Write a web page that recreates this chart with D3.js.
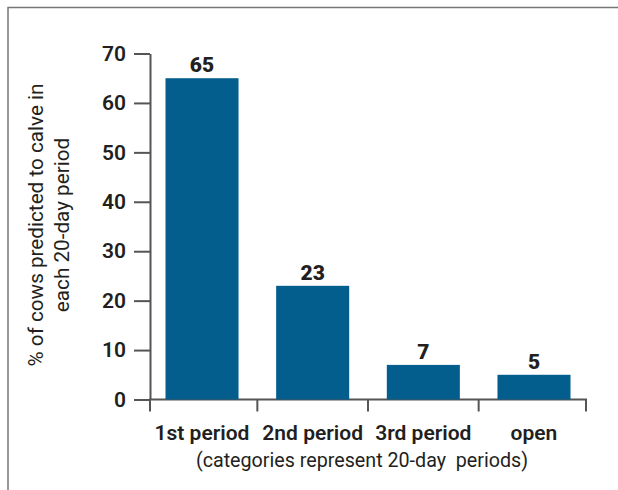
<!DOCTYPE html>
<html>
<head>
    <meta charset="utf-8">
    <style>
        body {
            margin: 0;
            background: #fff;
        }

        svg {
            display: block;
            font-family: Roboto, sans-serif;
        }

        .y .tick text {
            font-family: Roboto, sans-serif;
            font-size: 21px;
            font-weight: 600;
            fill: #231f20;
        }

        .tick line, .domain {
            stroke: #555;
            stroke-width: 2px;
        }
    </style>
</head>
<body>
    <svg width="618" height="490"></svg>

<script src="https://d3js.org/d3.v7.min.js"></script>
<script>
    let width = 618;
    let height = 490;

    // data
    let categories = ["1st period", "2nd period", "3rd period", "open"];
    let values = [65, 23, 7, 5];
    let yTicks = [0, 10, 20, 30, 40, 50, 60, 70];

    let barColor = "#035e8e";

    let svg = d3.select("svg");

    // frame (top + left only)
    svg.append("path")
        .attr("d", "M8,490 L8,7.5 L618,7.5")
        .attr("fill", "none")
        .attr("stroke", "#777")
        .attr("stroke-width", 1.5);

    let x = d3.scaleBand()
        .domain(categories)
        .range([150, 586])
        .paddingInner(0.34)
        .paddingOuter(0.14);

    let y = d3.scaleLinear()
        .domain([0, 70])
        .range([399.5, 53.5]);

    // y axis
    svg.append("g")
        .attr("class", "y axis")
        .attr("transform", "translate(150,0)")
        .call(d3.axisLeft(y).tickValues(yTicks).tickSize(16).tickSizeOuter(0).tickPadding(8));

    // x axis: line plus ticks between bars
    let xAxis = svg.append("g").attr("class", "x axis");
    xAxis.append("line")
        .attr("class", "domain")
        .attr("x1", 149).attr("x2", 587)
        .attr("y1", y(0)).attr("y2", y(0));

    let gap = x.step() - x.bandwidth();
    let edges = [150].concat(categories.slice(1).map(c => x(c) - gap / 2), [586]);
    xAxis.selectAll(".edge")
        .data(edges)
        .join("line")
        .attr("class", "edge")
        .attr("stroke", "#555")
        .attr("stroke-width", 2)
        .attr("x1", d => d).attr("x2", d => d)
        .attr("y1", y(0)).attr("y2", y(0) + 12);

    xAxis.selectAll(".cat")
        .data(categories)
        .join("text")
        .attr("class", "cat")
        .attr("x", d => x(d) + x.bandwidth() / 2)
        .attr("y", 440)
        .attr("text-anchor", "middle")
        .attr("font-size", 21)
        .attr("font-weight", 600)
        .attr("fill", "#231f20")
        .text(d => d);

    // bars
    svg.append("g")
        .selectAll("rect")
        .data(values)
        .join("rect")
        .attr("x", (d, i) => x(categories[i]))
        .attr("y", d => y(d))
        .attr("width", x.bandwidth())
        .attr("height", d => y(0) - y(d))
        .attr("fill", barColor);

    // value labels
    svg.append("g")
        .selectAll("text")
        .data(values)
        .join("text")
        .attr("x", (d, i) => x(categories[i]) + x.bandwidth() / 2)
        .attr("y", d => y(d) - 6)
        .attr("text-anchor", "middle")
        .attr("font-size", 21)
        .attr("font-weight", 900)
        .attr("fill", "#231f20")
        .text(d => d);

    // x subtitle
    svg.append("text")
        .attr("x", 362)
        .attr("y", 467)
        .attr("text-anchor", "middle")
        .attr("font-size", 19.7)
        .attr("fill", "#231f20")
        .attr("xml:space", "preserve")
        .text("(categories represent 20-day  periods)");

    // y title
    let yTitle = svg.append("text")
        .attr("transform", "translate(0,225) rotate(-90)")
        .attr("text-anchor", "middle")
        .attr("font-size", 20.7)
        .attr("fill", "#231f20");
    yTitle.append("tspan").attr("x", 0).attr("y", 43).text("% of cows predicted to calve in");
    yTitle.append("tspan").attr("x", 0).attr("y", 69).text("each 20-day period");
</script>
</body>
</html>
